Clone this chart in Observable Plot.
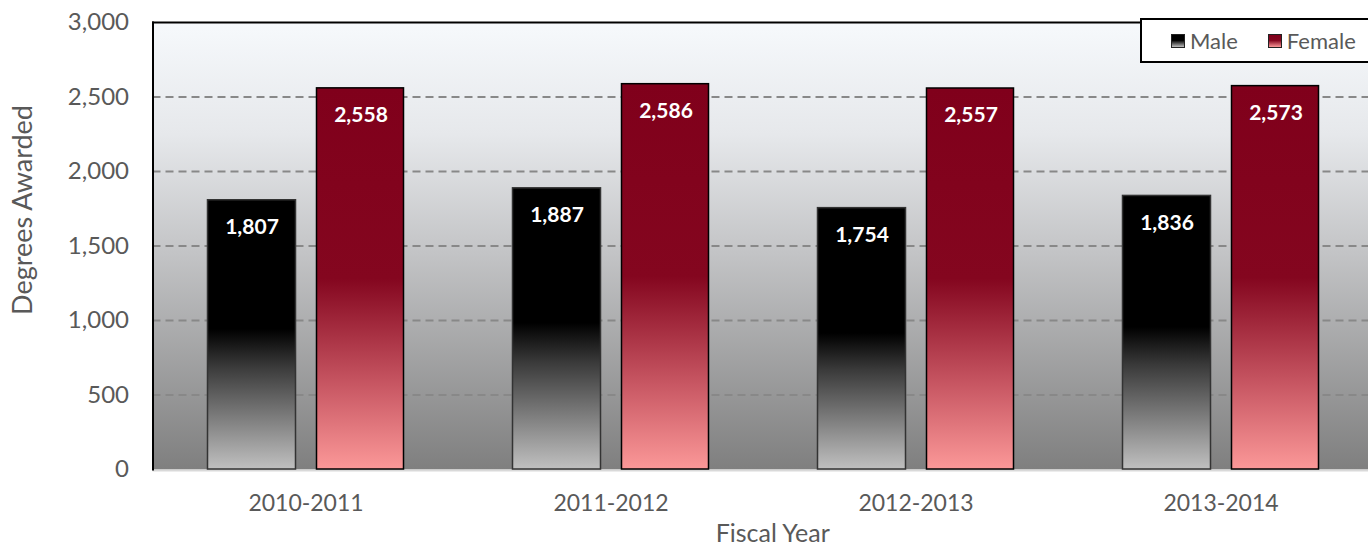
<!DOCTYPE html>
<html>
<head>
<meta charset="utf-8">
<script src="https://cdn.jsdelivr.net/npm/d3@7"></script>
<script src="https://cdn.jsdelivr.net/npm/@observablehq/plot@0.6"></script>
<style>
  html, body { margin: 0; padding: 0; background: #fff; }
  #wrap { position: relative; width: 1368px; height: 548px; overflow: hidden; font-family: Lato, sans-serif; }
  #legend { position: absolute; left: 1140px; top: 18px; width: 240px; height: 45px; border: 2px solid #000; background: #fff; box-sizing: border-box; display: flex; align-items: center; padding-left: 29px; color: #595959; font-size: 22px; }
  .sw { display: inline-block; width: 14px; height: 14px; border: 1px solid #222; margin-right: 5px; box-sizing: border-box; }
  .item { display: flex; align-items: center; margin-right: 30px; }
</style>
</head>
<body>
<div id="wrap"></div>
<script>
const years = ["2010-2011", "2011-2012", "2012-2013", "2013-2014"];
const male = [1807, 1887, 1754, 1836];
const female = [2558, 2586, 2557, 2573];
const yTicks = [0, 500, 1000, 1500, 2000, 2500, 3000];
const gridTicks = [500, 1000, 1500, 2000, 2500];
const seriesNames = ["Male", "Female"];

const maleData = years.map((y, i) => ({year: y, value: male[i]}));
const femaleData = years.map((y, i) => ({year: y, value: female[i]}));
const fmt = d3.format(",");

function defs() {
  const d = d3.create("svg:defs");
  const bg = d.append("linearGradient").attr("id", "bgGrad").attr("x1", 0).attr("y1", 0).attr("x2", 0).attr("y2", 1);
  bg.append("stop").attr("offset", 0).attr("stop-color", "#f6f9fc");
  bg.append("stop").attr("offset", 0.25).attr("stop-color", "#e6e8eb");
  bg.append("stop").attr("offset", 0.5).attr("stop-color", "#c5c6c8");
  bg.append("stop").attr("offset", 1).attr("stop-color", "#7f7f7f");
  const gm = d.append("linearGradient").attr("id", "gMale").attr("x1", 0).attr("y1", 0).attr("x2", 0).attr("y2", 1);
  gm.append("stop").attr("offset", 0).attr("stop-color", "#000");
  gm.append("stop").attr("offset", 0.48).attr("stop-color", "#000");
  gm.append("stop").attr("offset", 0.62).attr("stop-color", "#3a3a3a");
  gm.append("stop").attr("offset", 1).attr("stop-color", "#c0c0c0");
  const gf = d.append("linearGradient").attr("id", "gFemale").attr("x1", 0).attr("y1", 0).attr("x2", 0).attr("y2", 1);
  gf.append("stop").attr("offset", 0).attr("stop-color", "#80001b");
  gf.append("stop").attr("offset", 0.5).attr("stop-color", "#84061f");
  gf.append("stop").attr("offset", 0.78).attr("stop-color", "#c85763");
  gf.append("stop").attr("offset", 1).attr("stop-color", "#fb9898");
  return d.node();
}

const chart = Plot.plot({
  width: 1368,
  height: 548,
  marginTop: 22,
  marginBottom: 79,
  marginLeft: 152.5,
  marginRight: 0,
  style: {fontFamily: "Lato, sans-serif", color: "#595959", background: "transparent"},
  x: {domain: years, range: [152.5, 1372.5], padding: 0},
  y: {domain: [0, 3000], range: [469, 22]},
  marks: [
    defs,
    Plot.frame({fill: "url(#bgGrad)", stroke: null}),
    Plot.ruleY(gridTicks, {stroke: "#888", strokeWidth: 2, strokeDasharray: "8,5"}),
    Plot.ruleY([0], {stroke: "#d9d9d9", strokeWidth: 2, dy: 1}),
    Plot.barY(maleData, {x: "year", y: "value", fill: "url(#gMale)", stroke: "#333", strokeWidth: 1.5, insetLeft: 54.5, insetRight: 162.5}),
    Plot.barY(femaleData, {x: "year", y: "value", fill: "url(#gFemale)", stroke: "#000", strokeWidth: 1.5, insetLeft: 163.5, insetRight: 54.5}),
    Plot.text(maleData, {x: "year", y: "value", text: d => fmt(d.value), dx: -54, dy: 27, fill: "#fff", fontWeight: "bold", fontSize: 21}),
    Plot.text(femaleData, {x: "year", y: "value", text: d => fmt(d.value), dx: 55, dy: 27, fill: "#fff", fontWeight: "bold", fontSize: 21}),
    Plot.frame({anchor: "left", stroke: "#000", strokeWidth: 2}),
    Plot.frame({anchor: "top", stroke: "#000", strokeWidth: 2}),
    Plot.axisY({ticks: yTicks, tickSize: 0, tickPadding: 24, tickFormat: fmt, fontSize: 24, fill: "#595959", label: null}),
    Plot.axisX({tickSize: 0, tickPadding: 25, fontSize: 23, fill: "#595959", label: null}),
    Plot.text(["Degrees Awarded"], {frameAnchor: "left", textAnchor: "middle", rotate: -90, dx: -130, dy: -36, fontSize: 27, fill: "#595959"}),
    Plot.text(["Fiscal Year"], {frameAnchor: "bottom", lineAnchor: "middle", dx: 12, dy: 64, fontSize: 25, fill: "#595959"})
  ]
});

const wrap = document.getElementById("wrap");
wrap.appendChild(chart);

const legend = document.createElement("div");
legend.id = "legend";
const swatchGrad = {
  Male: "linear-gradient(#000 0%, #000 45%, #c0c0c0 100%)",
  Female: "linear-gradient(#80001b 0%, #84061f 45%, #fb9898 100%)"
};
seriesNames.forEach(name => {
  const item = document.createElement("span");
  item.className = "item";
  const sw = document.createElement("span");
  sw.className = "sw";
  sw.style.background = swatchGrad[name];
  item.appendChild(sw);
  item.appendChild(document.createTextNode(name));
  legend.appendChild(item);
});
wrap.appendChild(legend);
</script>
</body>
</html>
